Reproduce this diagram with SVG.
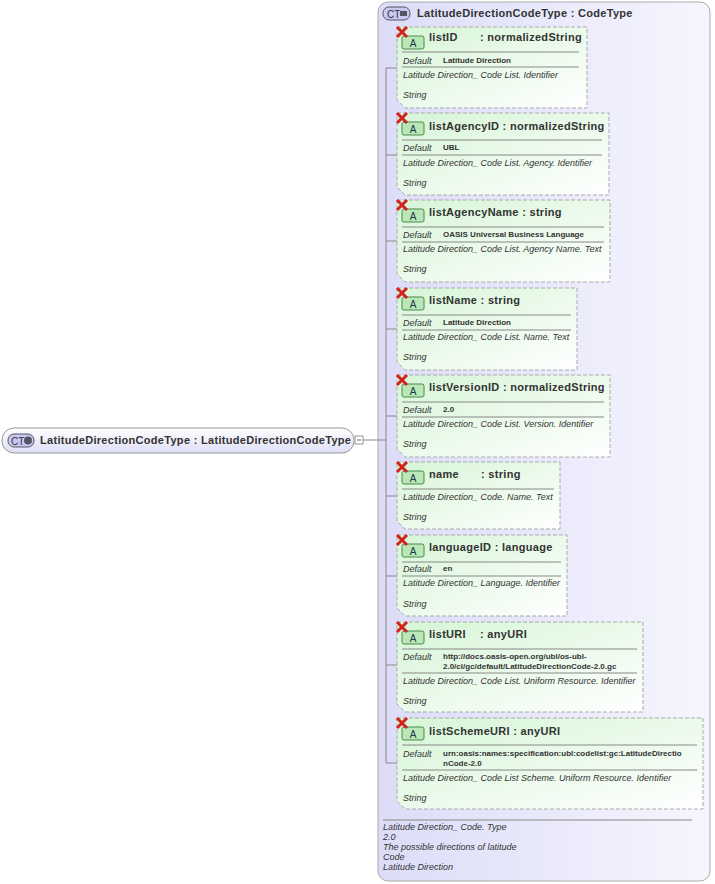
<svg xmlns="http://www.w3.org/2000/svg" width="715" height="884" viewBox="0 0 715 884">
<defs>
<linearGradient id="gc" x1="0" y1="0" x2="1" y2="0"><stop offset="0" stop-color="#dcdcf8"/><stop offset="1" stop-color="#f6f6fe"/></linearGradient>
<linearGradient id="gr" x1="0" y1="0" x2="0" y2="1"><stop offset="0" stop-color="#ffffff"/><stop offset="1" stop-color="#dedef6"/></linearGradient>
<linearGradient id="ga" x1="0" y1="0" x2="1" y2="1"><stop offset="0" stop-color="#d6f5d6"/><stop offset="1" stop-color="#ffffff"/></linearGradient>
<g id="ic">
<rect x="5" y="9" width="22" height="13" rx="2" fill="#b8e8b8" stroke="#4a8a4a"/>
<text x="16" y="20" font-size="10" text-anchor="middle" fill="#234" font-family="Liberation Sans, sans-serif">A</text>
<path d="M0 0L10 10M10 0L0 10" stroke="#d42020" stroke-width="3"/>
</g>
</defs>
<style>
.t{font-family:"Liberation Sans",Arial,sans-serif;fill:#333}
.h{font-size:11px;font-weight:bold;letter-spacing:0.3px}
.d{font-size:9px;font-style:italic}
.v{font-size:8px;font-weight:bold}
.box{fill:url(#ga);stroke:#aaa;stroke-dasharray:4,2}
.sep{stroke:#888;stroke-width:1}
.cn{stroke:#888;fill:none}
</style>
<g id="container">
<rect x="378" y="2" width="332" height="879" rx="10" fill="url(#gc)" stroke="#aaa"/>
<rect x="383" y="7" width="27" height="13" rx="6" fill="#c8c8f0" stroke="#556"/>
<text class="t" x="387" y="18" font-size="10">CT</text>
<rect x="400" y="11" width="7" height="5" fill="#556"/>
<text class="t h" x="417" y="17">LatitudeDirectionCodeType : CodeType</text>
<line class="sep" x1="383" y1="820" x2="692" y2="820"/>
<text class="t d" x="383" y="830">Latitude Direction_ Code. Type</text>
<text class="t d" x="383" y="840">2.0</text>
<text class="t d" x="383" y="850">The possible directions of latitude</text>
<text class="t d" x="383" y="860">Code</text>
<text class="t d" x="383" y="870">Latitude Direction</text>
</g>
<g id="connectors" class="cn">
<path d="M363 440H386M386 68V763"/>
<path d="M386 68H397M386 155H397M386 241H397M386 329H397M386 416H397M386 496H397M386 576H397M386 665H397M386 763H397"/>
</g>
<g id="root">
<rect x="2" y="428" width="352" height="25" rx="12" fill="url(#gr)" stroke="#999"/>
<rect x="8" y="434" width="26" height="13" rx="6" fill="#c8c8f0" stroke="#556"/>
<text class="t" x="11" y="445" font-size="10">CT</text>
<circle cx="28" cy="440.5" r="4" fill="#556"/>
<text class="t h" x="40" y="444">LatitudeDirectionCodeType : LatitudeDirectionCodeType</text>
<rect x="355" y="436" width="8" height="8" fill="#fff" stroke="#999"/>
<line x1="357" y1="440" x2="361" y2="440" stroke="#666"/>
</g>
<g id="listID" transform="translate(397,27)">
<path class="box" d="M0 0H190V81H8L0 73Z"/><use href="#ic"/>
<text class="t h" x="32" y="14">listID</text><text class="t h" x="83" y="14">: normalizedString</text>
<line class="sep" x1="5" y1="25" x2="182" y2="25"/>
<text class="t d" x="6" y="37">Default</text><text class="t v" x="46" y="36">Latitude Direction</text>
<line class="sep" x1="5" y1="40" x2="182" y2="40"/>
<text class="t d" x="6" y="51">Latitude Direction_ Code List. Identifier</text>
<text class="t d" x="6" y="71">String</text>
</g>
<g id="listAgencyID" transform="translate(397,113)">
<path class="box" d="M0 0H212V82H8L0 74Z"/><use href="#ic"/>
<text class="t h" x="32" y="17">listAgencyID : normalizedString</text>
<line class="sep" x1="5" y1="27" x2="205" y2="27"/>
<text class="t d" x="6" y="38">Default</text><text class="t v" x="46" y="37">UBL</text>
<line class="sep" x1="5" y1="42" x2="205" y2="42"/>
<text class="t d" x="6" y="53">Latitude Direction_ Code List. Agency. Identifier</text>
<text class="t d" x="6" y="73">String</text>
</g>
<g id="listAgencyName" transform="translate(397,200)">
<path class="box" d="M0 0H213V82H8L0 74Z"/><use href="#ic"/>
<text class="t h" x="32" y="16">listAgencyName : string</text>
<line class="sep" x1="5" y1="27" x2="207" y2="27"/>
<text class="t d" x="6" y="38">Default</text><text class="t v" x="46" y="37">OASIS Universal Business Language</text>
<line class="sep" x1="5" y1="42" x2="207" y2="42"/>
<text class="t d" x="6" y="52">Latitude Direction_ Code List. Agency Name. Text</text>
<text class="t d" x="6" y="72">String</text>
</g>
<g id="listName" transform="translate(397,288)">
<path class="box" d="M0 0H180V82H8L0 74Z"/><use href="#ic"/>
<text class="t h" x="32" y="16">listName : string</text>
<line class="sep" x1="5" y1="27" x2="174" y2="27"/>
<text class="t d" x="6" y="38">Default</text><text class="t v" x="46" y="37">Latitude Direction</text>
<line class="sep" x1="5" y1="42" x2="174" y2="42"/>
<text class="t d" x="6" y="52">Latitude Direction_ Code List. Name. Text</text>
<text class="t d" x="6" y="72">String</text>
</g>
<g id="listVersionID" transform="translate(397,375)">
<path class="box" d="M0 0H213V82H8L0 74Z"/><use href="#ic"/>
<text class="t h" x="32" y="16">listVersionID : normalizedString</text>
<line class="sep" x1="5" y1="27" x2="207" y2="27"/>
<text class="t d" x="6" y="38">Default</text><text class="t v" x="46" y="37">2.0</text>
<line class="sep" x1="5" y1="42" x2="207" y2="42"/>
<text class="t d" x="6" y="52">Latitude Direction_ Code List. Version. Identifier</text>
<text class="t d" x="6" y="72">String</text>
</g>
<g id="name" transform="translate(397,462)">
<path class="box" d="M0 0H163V67H8L0 59Z"/><use href="#ic"/>
<text class="t h" x="32" y="16">name</text><text class="t h" x="84" y="16">: string</text>
<line class="sep" x1="5" y1="27" x2="157" y2="27"/>
<text class="t d" x="6" y="38">Latitude Direction_ Code. Name. Text</text>
<text class="t d" x="6" y="58">String</text>
</g>
<g id="languageID" transform="translate(397,535)">
<path class="box" d="M0 0H170V81H8L0 73Z"/><use href="#ic"/>
<text class="t h" x="32" y="16">languageID : language</text>
<line class="sep" x1="5" y1="27" x2="164" y2="27"/>
<text class="t d" x="6" y="37">Default</text><text class="t v" x="46" y="36">en</text>
<line class="sep" x1="5" y1="41" x2="164" y2="41"/>
<text class="t d" x="6" y="51">Latitude Direction_ Language. Identifier</text>
<text class="t d" x="6" y="72">String</text>
</g>
<g id="listURI" transform="translate(397,622)">
<path class="box" d="M0 0H246V90H8L0 82Z"/><use href="#ic"/>
<text class="t h" x="32" y="16">listURI</text><text class="t h" x="83" y="16">: anyURI</text>
<line class="sep" x1="5" y1="27" x2="240" y2="27"/>
<text class="t d" x="6" y="38">Default</text><text class="t v" x="46" y="37">http://docs.oasis-open.org/ubl/os-ubl-</text>
<text class="t v" x="46" y="47">2.0/cl/gc/default/LatitudeDirectionCode-2.0.gc</text>
<line class="sep" x1="5" y1="51" x2="240" y2="51"/>
<text class="t d" x="6" y="62">Latitude Direction_ Code List. Uniform Resource. Identifier</text>
<text class="t d" x="6" y="82">String</text>
</g>
<g id="listSchemeURI" transform="translate(397,718)">
<path class="box" d="M0 0H306V91H8L0 83Z"/><use href="#ic"/>
<text class="t h" x="32" y="17">listSchemeURI : anyURI</text>
<line class="sep" x1="5" y1="27" x2="300" y2="27"/>
<text class="t d" x="6" y="39">Default</text><text class="t v" x="46" y="38">urn:oasis:names:specification:ubl:codelist:gc:LatitudeDirectio</text>
<text class="t v" x="46" y="48">nCode-2.0</text>
<line class="sep" x1="5" y1="52" x2="300" y2="52"/>
<text class="t d" x="6" y="63">Latitude Direction_ Code List Scheme. Uniform Resource. Identifier</text>
<text class="t d" x="6" y="83">String</text>
</g>
</svg>
